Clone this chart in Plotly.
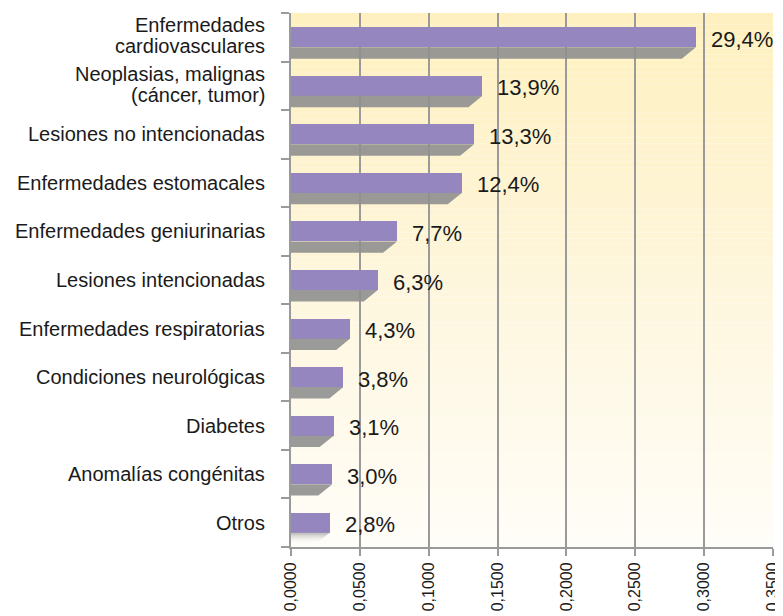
import plotly.graph_objects as go

# causes of death, top to bottom as in the chart
categories = [
    "Enfermedades<br>cardiovasculares",
    "Neoplasias, malignas<br>(cáncer, tumor)",
    "Lesiones no intencionadas",
    "Enfermedades estomacales",
    "Enfermedades geniurinarias",
    "Lesiones intencionadas",
    "Enfermedades respiratorias",
    "Condiciones neurológicas",
    "Diabetes",
    "Anomalías congénitas",
    "Otros",
]
values = [0.294, 0.139, 0.133, 0.124, 0.077, 0.063, 0.043, 0.038, 0.031, 0.030, 0.028]
value_labels = ["29,4%", "13,9%", "13,3%", "12,4%", "7,7%", "6,3%", "4,3%", "3,8%", "3,1%", "3,0%", "2,8%"]
x_ticks = [0.0, 0.05, 0.10, 0.15, 0.20, 0.25, 0.30, 0.35]

n = len(categories)
pos = [n - 1 - i for i in range(n)]  # first category on top

PURPLE = "#9686bf"
SHADOW = "#8f8f8f"
GRID = "#9a9a9a"
FONT = "Liberation Sans, Arial, sans-serif"

half = 0.206   # half bar thickness (row units)
depth = 0.235  # shadow depth (row units)
bevel = 0.0102 # shadow bevel (x units)

fig = go.Figure()

# gray "3D" shadow under each bar
for i, (p, v) in enumerate(zip(pos, values)):
    top = p - half
    bot = top - depth
    kw = dict(fillcolor=SHADOW)
    if i == n - 1:
        kw = dict(fillgradient=dict(type="vertical",
                                    colorscale=[[0, "rgba(255,255,255,0)"], [1, "#b0b0b0"]]))
    fig.add_trace(go.Scatter(
        x=[0, v, v - bevel, 0, 0], y=[top, top, bot, bot, top],
        mode="lines", fill="toself", line=dict(width=0),
        hoverinfo="skip", showlegend=False, opacity=0.9, **kw))

fig.add_trace(go.Bar(
    x=values, y=pos, orientation="h", width=2 * half,
    marker=dict(color=PURPLE, line=dict(width=0)),
    showlegend=False))

annotations = []
for p, v, t in zip(pos, values, value_labels):
    annotations.append(dict(x=v, y=p, xref="x", yref="y", text=t, showarrow=False,
                            xanchor="left", yanchor="middle", xshift=13, yshift=-2,
                            font=dict(family=FONT, size=22, color="#1a1a1a")))

for p, c in zip(pos, categories):
    lines = c.split("<br>")
    shifts = [0] if len(lines) == 1 else [12, -9]
    for line, s in zip(lines, shifts):
        annotations.append(dict(x=0, y=p, xref="paper", yref="y", text=line, showarrow=False,
                                xanchor="right", yanchor="middle", xshift=-24, yshift=s,
                                font=dict(family=FONT, size=20, color="#1a1a1a")))

# vertical cream-to-white background, as thin bands under the gridlines
def mix(c1, c2, t):
    return "rgb(%d,%d,%d)" % tuple(round(a + (b - a) * t) for a, b in zip(c1, c2))

top_c, mid_c, bot_c = (254, 240, 191), (254, 246, 220), (255, 253, 248)
bands = 90
shapes = []
for k in range(bands):
    f = (k + 0.5) / bands  # 0 at top
    col = mix(top_c, mid_c, f * 2) if f < 0.5 else mix(mid_c, bot_c, (f - 0.5) * 2)
    shapes.append(dict(type="rect", xref="paper", yref="paper", layer="below",
                       x0=0, x1=1, y0=1 - (k + 1) / bands, y1=1 - k / bands,
                       fillcolor=col, line=dict(width=0)))

# page body has an 8px margin, so the figure is sized/offset to compensate
fig.update_layout(
    width=775, height=608,
    margin=dict(l=283, r=10, t=5, b=69),
    paper_bgcolor="white",
    plot_bgcolor="rgba(0,0,0,0)",
    separators=",.",
    font=dict(family=FONT, color="#1a1a1a"),
    annotations=annotations,
    shapes=shapes,
    xaxis=dict(range=[0, 0.35], tickvals=x_ticks, tickformat=".4f", tickangle=-90,
               automargin=False,
               showgrid=True, gridcolor=GRID, gridwidth=2, zeroline=False,
               showline=True, linecolor=GRID, linewidth=2,
               ticks="outside", ticklen=7, tickwidth=2, tickcolor=GRID,
               tickfont=dict(size=16, family=FONT, color="#1a1a1a")),
    yaxis=dict(range=[-0.5, n - 0.5], tickvals=[k - 0.5 for k in range(n + 1)],
               automargin=False,
               showticklabels=False, showgrid=False, zeroline=False,
               showline=True, linecolor=GRID, linewidth=2,
               ticks="outside", ticklen=8, tickwidth=2, tickcolor=GRID),
    bargap=0,
)

fig.write_html("out.html")
